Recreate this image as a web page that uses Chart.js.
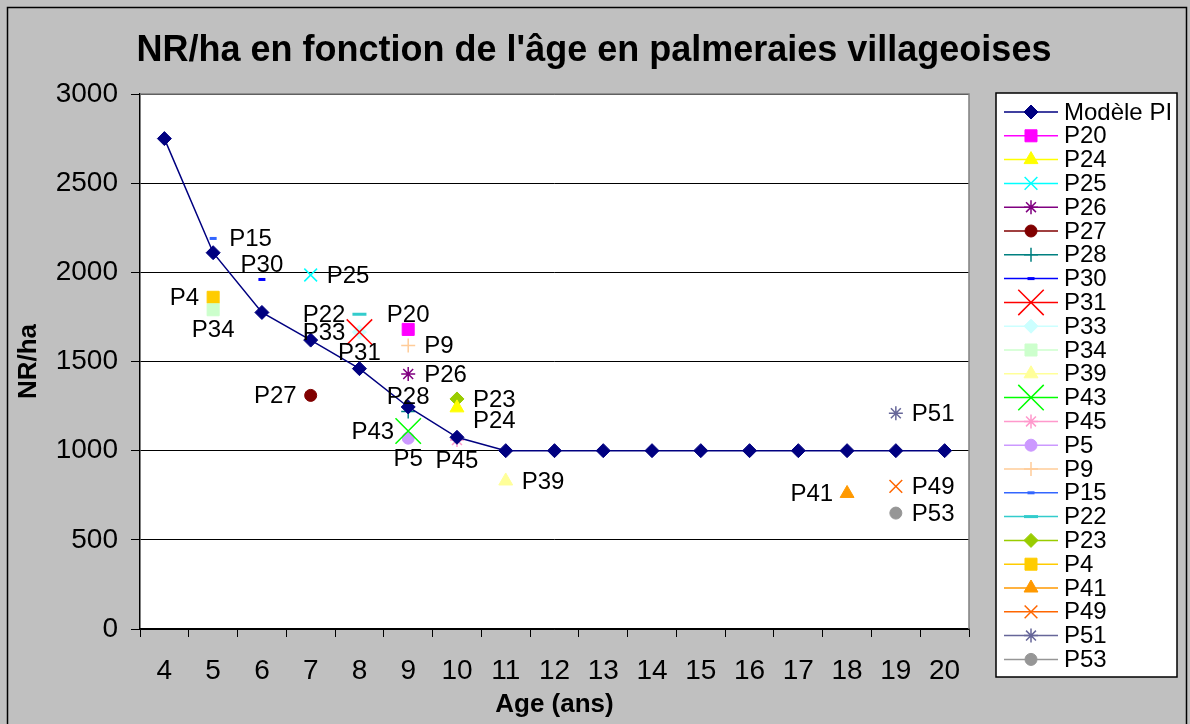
<!DOCTYPE html>
<html>
<head>
<meta charset="utf-8">
<title>NR/ha en fonction de l'âge</title>
<script src="https://cdn.jsdelivr.net/npm/chart.js@4.4.1/dist/chart.umd.min.js"></script>
<style>
  html, body { margin: 0; padding: 0; background: #c0c0c0; }
  #wrap { width: 1190px; height: 724px; }
</style>
</head>
<body>
<div id="wrap"><canvas id="chart" width="1190" height="724"></canvas></div>
<script>
// categories (age in years)
const ages = ["4", "5", "6", "7", "8", "9", "10", "11", "12", "13", "14", "15", "16", "17", "18", "19", "20"];

// model curve
const modelName = "Modèle PI";
const modelValues = [2750, 2110, 1775, 1620, 1460, 1245, 1075, 1000, 1000, 1000, 1000, 1000, 1000, 1000, 1000, 1000, 1000];

// observed plots, in legend order
const plotNames = ["P20", "P24", "P25", "P26", "P27", "P28", "P30", "P31", "P33", "P34", "P39", "P43",
  "P45", "P5", "P9", "P15", "P22", "P23", "P4", "P41", "P49", "P51", "P53"];
const plotAges = ["9", "10", "7", "9", "7", "9", "6", "8", "8", "5", "11", "9",
  "10", "9", "9", "5", "8", "10", "5", "18", "19", "19", "19"];
const plotValues = [1680, 1240, 1985, 1430, 1310, 1220, 1960, 1665, 1665, 1790, 830, 1110,
  1060, 1070, 1590, 2190, 1765, 1290, 1860, 760, 800, 1210, 650];

const yTicks = [0, 500, 1000, 1500, 2000, 2500, 3000];

// marker styles per series
const styles = {
  "P20": { color: "#ff00ff", shape: "rect", r: 8.5 },
  "P24": { color: "#ffff00", shape: "triangle", r: 8 },
  "P25": { color: "#00ffff", shape: "crossRot", r: 9 },
  "P26": { color: "#800080", shape: "star", r: 7 },
  "P27": { color: "#800000", shape: "circle", r: 6 },
  "P28": { color: "#008080", shape: "cross", r: 7 },
  "P30": { color: "#0000ff", shape: "line", r: 3.5, bw: 3 },
  "P31": { color: "#ff0000", shape: "crossRot", r: 18 },
  "P33": { color: "#ccffff", shape: "rectRot", r: 7 },
  "P34": { color: "#ccffcc", shape: "rect", r: 8.5 },
  "P39": { color: "#ffff99", shape: "triangle", r: 8 },
  "P43": { color: "#00ff00", shape: "crossRot", r: 18 },
  "P45": { color: "#ff99cc", shape: "star", r: 7 },
  "P5":  { color: "#cc99ff", shape: "circle", r: 6 },
  "P9":  { color: "#ffcc99", shape: "cross", r: 7 },
  "P15": { color: "#3366ff", shape: "line", r: 3.5, bw: 3 },
  "P22": { color: "#33cccc", shape: "line", r: 7, bw: 3 },
  "P23": { color: "#99cc00", shape: "rectRot", r: 7 },
  "P4":  { color: "#ffcc00", shape: "rect", r: 8.5 },
  "P41": { color: "#ff9900", shape: "triangle", r: 8 },
  "P49": { color: "#ff6600", shape: "crossRot", r: 9 },
  "P51": { color: "#666699", shape: "star", r: 7 },
  "P53": { color: "#969696", shape: "circle", r: 6 }
};

// where the data label sits relative to its point
const labelSide = {
  P15: "r", P30: "t", P25: "r", P4: "l", P34: "b", P22: "l", P33: "l", P31: "b",
  P20: "t", P9: "r", P26: "r", P27: "l", P23: "r", P24: "rb", P28: "t", P43: "l",
  P5: "b", P45: "b", P39: "r", P41: "l", P49: "r", P51: "r", P53: "r"
};

const FONT = "'Liberation Sans', Arial, sans-serif";
const filled = ["rect", "rectRot", "triangle", "circle"];

const datasets = [{
  label: modelName,
  data: modelValues,
  borderColor: "#000080",
  backgroundColor: "#000080",
  borderWidth: 1.5,
  pointStyle: "rectRot",
  pointRadius: 7,
  pointBorderWidth: 1,
  tension: 0
}];

plotNames.forEach((name, i) => {
  const s = styles[name];
  datasets.push({
    label: name,
    data: [{ x: plotAges[i], y: plotValues[i] }],
    showLine: false,
    borderColor: s.color,
    backgroundColor: s.color,
    pointStyle: s.shape,
    pointRadius: s.r,
    pointBorderWidth: s.bw || (filled.includes(s.shape) ? 1 : 1.5)
  });
});

function drawMarker(ctx, ds, x, y) {
  ctx.save();
  ctx.fillStyle = ds.backgroundColor;
  ctx.strokeStyle = ds.borderColor;
  ctx.lineWidth = ds.pointBorderWidth;
  Chart.helpers.drawPoint(ctx, {
    pointStyle: ds.pointStyle, radius: ds.pointRadius, rotation: 0, borderWidth: ds.pointBorderWidth
  }, x, y);
  ctx.restore();
}

const decor = {
  id: "decor",
  beforeDraw(chart) {
    const ctx = chart.ctx, a = chart.chartArea;
    ctx.save();
    ctx.fillStyle = "#c0c0c0";
    ctx.fillRect(0, 0, chart.width, chart.height);
    ctx.strokeStyle = "#000";
    ctx.lineWidth = 1.5;
    ctx.strokeRect(7.5, 7.5, 1179, 740);
    ctx.fillStyle = "#fff";
    ctx.fillRect(a.left, a.top, a.right - a.left, a.bottom - a.top);
    ctx.restore();
  },
  afterDatasetsDraw(chart) {
    const ctx = chart.ctx;
    ctx.save();
    ctx.font = "24px " + FONT;
    ctx.fillStyle = "#000";
    chart.data.datasets.forEach((ds, i) => {
      if (i === 0) return;
      const pt = chart.getDatasetMeta(i).data[0];
      const side = labelSide[ds.label];
      let x = pt.x, y = pt.y;
      if (side === "r" || side === "rb") {
        ctx.textAlign = "left"; ctx.textBaseline = "middle"; x += 16;
        if (side === "rb") y += 13;
      } else if (side === "l") {
        ctx.textAlign = "right"; ctx.textBaseline = "middle"; x -= 14;
      } else if (side === "t") {
        ctx.textAlign = "center"; ctx.textBaseline = "middle"; y -= 15;
      } else {
        ctx.textAlign = "center"; ctx.textBaseline = "middle"; y += 20;
      }
      ctx.fillText(ds.label, x, y + 1);
    });
    ctx.restore();
  },
  afterDraw(chart) {
    const ctx = chart.ctx, a = chart.chartArea;
    ctx.save();
    // plot area frame (top / right)
    ctx.strokeStyle = "#808080";
    ctx.lineWidth = 1.5;
    ctx.beginPath();
    ctx.moveTo(a.left, a.top);
    ctx.lineTo(a.right, a.top);
    ctx.lineTo(a.right, a.bottom);
    ctx.stroke();

    // titles
    ctx.fillStyle = "#000";
    ctx.textAlign = "center";
    ctx.textBaseline = "middle";
    ctx.font = "bold 36px " + FONT;
    ctx.fillText("NR/ha en fonction de l'âge en palmeraies villageoises", 594, 51);
    ctx.font = "bold 26px " + FONT;
    ctx.fillText("Age (ans)", (a.left + a.right) / 2, 705);
    ctx.save();
    ctx.translate(29, (a.top + a.bottom) / 2);
    ctx.rotate(-Math.PI / 2);
    ctx.fillText("NR/ha", 0, 0);
    ctx.restore();

    // legend
    const lx = 996, ly = 93, lw = 181, lh = 584;
    ctx.fillStyle = "#fff";
    ctx.fillRect(lx, ly, lw, lh);
    ctx.strokeStyle = "#000";
    ctx.lineWidth = 1.5;
    ctx.strokeRect(lx, ly, lw, lh);
    ctx.font = "24px " + FONT;
    ctx.textAlign = "left";
    chart.data.datasets.forEach((ds, i) => {
      const y = 112 + i * 23.8;
      ctx.strokeStyle = ds.borderColor;
      ctx.lineWidth = 1.5;
      ctx.beginPath();
      ctx.moveTo(1004, y);
      ctx.lineTo(1058, y);
      ctx.stroke();
      drawMarker(ctx, ds, 1031, y);
      ctx.fillStyle = "#000";
      ctx.fillText(ds.label, 1064, y + 1);
    });
    ctx.restore();
  }
};

new Chart(document.getElementById("chart"), {
  type: "line",
  data: { labels: ages, datasets: datasets },
  options: {
    responsive: false,
    animation: false,
    devicePixelRatio: 1,
    layout: { padding: { left: 0, top: 94, right: 221, bottom: 0 } },
    plugins: { legend: { display: false }, title: { display: false }, tooltip: { enabled: false } },
    scales: {
      x: {
        type: "category",
        offset: true,
        grid: { offset: true, drawOnChartArea: false, drawTicks: true, tickLength: 8, color: "#000", lineWidth: 1 },
        border: { color: "#000", width: 1.5 },
        ticks: { color: "#000", font: { family: FONT, size: 28 }, padding: 17, maxRotation: 0, autoSkip: false },
        afterFit(scale) { scale.height = 95; }
      },
      y: {
        min: 0,
        max: 3000,
        afterBuildTicks(scale) { scale.ticks = yTicks.map(v => ({ value: v })); },
        grid: { color: "#000", lineWidth: 1, tickLength: 9 },
        border: { color: "#000", width: 1.5 },
        ticks: { color: "#000", font: { family: FONT, size: 28 }, padding: 13, callback: v => String(v) },
        afterFit(scale) { scale.width = 140; }
      }
    }
  },
  plugins: [decor]
});
</script>
</body>
</html>
